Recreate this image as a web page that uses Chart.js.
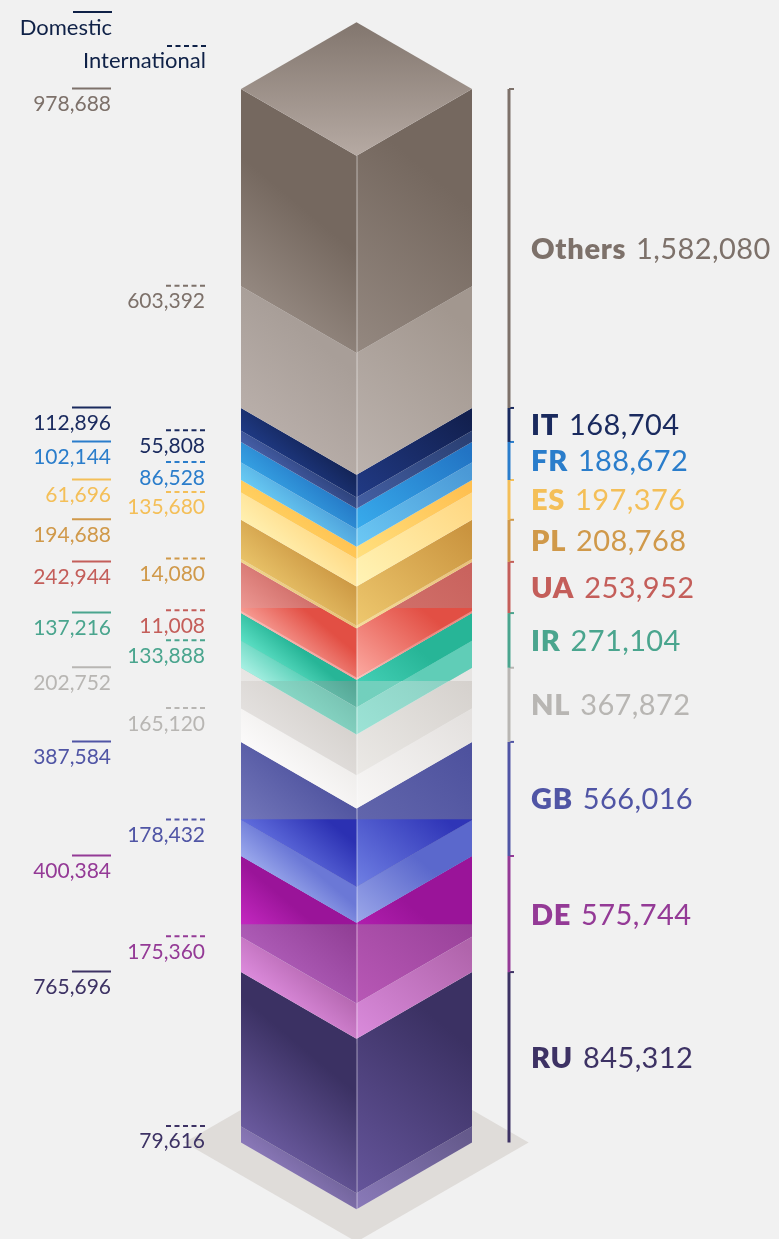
<!DOCTYPE html>
<html><head><meta charset="utf-8">
<style>html,body{margin:0;padding:0;background:#f1f1f1}canvas{display:block}</style>
<script src="https://cdn.jsdelivr.net/npm/chart.js@4"></script>
</head><body><canvas id="c" width="779" height="1239"></canvas>
<script>
// ---- data (bottom of the column first) ----
const countries = ['RU','DE','GB','NL','IR','UA','PL','ES','FR','IT','Others'];
const domestic = [765696,400384,387584,202752,137216,242944,194688,61696,102144,112896,978688];
const international = [79616,175360,178432,165120,133888,11008,14080,135680,86528,55808,603392];
const totalLabels = ['845,312','575,744','566,016','367,872','271,104','253,952','208,768','197,376','188,672','168,704','1,582,080'];
const domesticLabels = ['765,696','400,384','387,584','202,752','137,216','242,944','194,688','61,696','102,144','112,896','978,688'];
const internationalLabels = ['79,616','175,360','178,432','165,120','133,888','11,008','14,080','135,680','86,528','55,808','603,392'];

// ---- styles ----
const labelColors = ['#3d3264','#943a96','#5055a5','#b8b6b3','#4aa58e','#c45e5a','#d0994a','#f4bf58','#2a7dcb','#1a2a5e','#7d716a'];
const bandStyles = {
 RU:{dom:{base:['#6a5a9e','#3b3163','#65559b','#3b3163']},intl:{base:['#8a78b8','#6f6298','#8a7ab9','#655a8c']}},
 DE:{dom:{base:['#ad5bb6','#8c3a90','#b858b6','#8f3b90'],alt:['#cc2cc8','#9a1499','#cc2cc8','#9a1499']},intl:{base:['#dc8bdc','#b063ab','#da8bdc','#b064ab']}},
 GB:{dom:{base:['#7377ba','#4e529e','#6a6eb2','#4e529e'],alt:['#5f6cdc','#2b30b2','#7080e4','#2f35b7']},intl:{base:['#9aa8ec','#6b78d6','#9ca8ea','#5b68cc'],alt:['#9aa8ec','#6b78d6','#9ca8ea','#5b68cc']}},
 NL:{dom:{base:['#e3e0de','#d5d1cd','#ebe9e6','#d5d1cd'],alt:['#ecebe9','#e6e4e2','#ecebe9','#e6e4e2']},intl:{base:['#fbfafa','#eeecea','#f8f7f6','#e4e1df']}},
 IR:{dom:{base:['#6cc4b2','#4e9e8d','#72d0bd','#72cfbd'],alt:['#5cdfc4','#27b597','#4cd8bf','#27b597']},intl:{base:['#8adac8','#76c0b0','#9ce3d6','#88cbbd'],alt:['#a8f0e3','#62d3bc','#a8f0e3','#60cdb7']}},
 UA:{dom:{base:['#ee9a95','#c9635e','#d87b74','#c9635e'],alt:['#f69a92','#e24f44','#fcaaa2','#e24f44']},intl:{base:['#f9b9b3','#f6a5a0','#fbc4be','#ee8a82'],alt:['#f9b9b3','#f6a5a0','#fbc4be','#ee8a82']}},
 PL:{dom:{base:['#e8c268','#c9933f','#eec86e','#ca943f']},intl:{base:['#f0d58c','#e5bb72','#f5dd9b','#eac27a']}},
 ES:{dom:{base:['#ffd060','#ffc050','#ffe07f','#ffc050']},intl:{base:['#fff0b0','#ffd680','#fff4b6','#ffd884']}},
 FR:{dom:{base:['#35a0e2','#2373c2','#38aced','#2274c4']},intl:{base:['#68caf3','#4a9ad6','#6cc9f5','#4b99d6']}},
 IT:{dom:{base:['#1f3a84','#11204f','#213a85','#12204f']},intl:{base:['#465fa7','#283c72','#4560a4','#2b4074']}},
 Others:{dom:{base:['#948880','#75685f','#948880','#75685f']},intl:{base:['#b8aea9','#a89e98','#bcb3ae','#a2978f']}}
};
// value ranges of the stack where the saturated colouring applies
const saturatedZones = [[2289000,2651000],[1083000,1604000]];
const FONT = 'Lato, "Open Sans", sans-serif';

const datasets = [];
countries.forEach((c,i)=>{
  datasets.push({label:c+' International',data:[international[i]],stack:'col',backgroundColor:'transparent',borderWidth:0,_country:c,_kind:'intl',_i:i});
  datasets.push({label:c+' Domestic',data:[domestic[i]],stack:'col',backgroundColor:'transparent',borderWidth:0,_country:c,_kind:'dom',_i:i});
});
const grandTotal = domestic.reduce((a,b)=>a+b,0)+international.reduce((a,b)=>a+b,0);

function facePath(ctx,x0,y0a,y0b,x1,y1a,y1b){
  ctx.beginPath();ctx.moveTo(x0,y0a);ctx.lineTo(x1,y1a);ctx.lineTo(x1,y1b);ctx.lineTo(x0,y0b);ctx.closePath();
}
function faceGrad(ctx,x,y,L,c0,c1){
  const a=50*Math.PI/180;
  const g=ctx.createLinearGradient(x,y,x+L*Math.cos(a),y-L*Math.sin(a));
  g.addColorStop(0,c0);g.addColorStop(1,c1);return g;
}
function paintFace(ctx,chart,st,depth,xl,xc,xr,t,b){
  const h=b-t,ys=chart.scales.y;
  const sides=[
    {x0:xl,a:t,bb:b,x1:xc,a1:t+depth,b1:b+depth,px:xl,py:b,L:Math.min(100,30+.77*h),c:0},
    {x0:xc,a:t+depth,bb:b+depth,x1:xr,a1:t,b1:b,px:xc,py:b+depth,L:Math.min(185,115+.77*h),c:2}
  ];
  sides.forEach(s=>{
    ctx.save();
    facePath(ctx,s.x0,s.a,s.bb,s.x1,s.a1,s.b1);ctx.clip();
    ctx.fillStyle=faceGrad(ctx,s.px,s.py,s.L,st.base[s.c],st.base[s.c+1]);
    ctx.fillRect(s.x0-1,Math.min(s.a,s.a1)-1,s.x1-s.x0+2,h+depth+2);
    if(st.alt){
      saturatedZones.forEach(z=>{
        const zt=ys.getPixelForValue(z[1]),zb=ys.getPixelForValue(z[0]);
        ctx.save();ctx.beginPath();ctx.rect(s.x0-1,zt,s.x1-s.x0+2,zb-zt);ctx.clip();
        ctx.fillStyle=faceGrad(ctx,s.px,s.py,s.L*.62,st.alt[s.c],st.alt[s.c+1]);
        ctx.fillRect(s.x0-1,Math.min(s.a,s.a1)-1,s.x1-s.x0+2,h+depth+2);
        ctx.restore();
      });
    }
    ctx.restore();
  });
}

const isoColumn = {
  id:'isoColumn',
  beforeDatasetsDraw(chart){
    const ctx=chart.ctx,first=chart.getDatasetMeta(0).data[0];
    const half=first.width/2,xc=first.x,b=first.base;
    // floor
    const fw=half*1.49,fh=fw*Math.tan(Math.PI/6);
    ctx.save();ctx.fillStyle='#dfdcd9';ctx.beginPath();
    ctx.moveTo(xc,b-fh);ctx.lineTo(xc+fw,b);ctx.lineTo(xc,b+fh);ctx.lineTo(xc-fw,b);ctx.closePath();ctx.fill();ctx.restore();
  },
  afterDatasetsDraw(chart){
    const ctx=chart.ctx;
    let topY=0,left,right,xc,depth;
    chart.data.datasets.forEach((ds,di)=>{
      const el=chart.getDatasetMeta(di).data[0];
      xc=el.x;const half=el.width/2;left=xc-half;right=xc+half;depth=half*Math.tan(Math.PI/6);
      paintFace(ctx,chart,bandStyles[ds._country][ds._kind],depth,left,xc,right,el.y,el.base);
      topY=el.y;

      const col=labelColors[ds._i];
      ctx.save();ctx.fillStyle=col;ctx.strokeStyle=col;ctx.font='21px '+FONT;ctx.textAlign='right';ctx.textBaseline='alphabetic';
      ctx.lineWidth=2;ctx.beginPath();
      if(ds._kind==='dom'){
        ctx.moveTo(left-169,el.y-.5);ctx.lineTo(left-130,el.y-.5);ctx.stroke();
        ctx.fillText(domesticLabels[ds._i],left-130,el.y+22);
      }else{
        ctx.setLineDash([5,3.5]);ctx.moveTo(left-75,el.y-.5);ctx.lineTo(left-36,el.y-.5);ctx.stroke();
        ctx.fillText(internationalLabels[ds._i],left-36,el.y+22);
      }
      ctx.restore();

      if(ds._kind==='dom'){
        // bracket and total label for the country
        const bottom=chart.getDatasetMeta(di-1).data[0].base,xb=right+37;
        ctx.save();ctx.strokeStyle=col;ctx.lineWidth=3;ctx.beginPath();ctx.moveTo(xb,el.y);ctx.lineTo(xb,bottom);ctx.stroke();
        ctx.lineWidth=2;ctx.beginPath();ctx.moveTo(xb,el.y);ctx.lineTo(xb+5,el.y);ctx.stroke();
        const mid=(el.y+bottom)/2+10.5,xt=right+59;
        ctx.fillStyle=col;ctx.textAlign='left';ctx.textBaseline='alphabetic';
        ctx.letterSpacing='0.7px';
        ctx.font='800 29px '+FONT;ctx.fillText(countries[ds._i],xt,mid);
        const w=ctx.measureText(countries[ds._i]).width+10;
        ctx.letterSpacing='0.4px';
        ctx.font='400 29px '+FONT;ctx.fillText(totalLabels[ds._i],xt+w,mid);
        ctx.restore();
      }
    });
    // top cap
    const g=ctx.createLinearGradient(0,topY-depth,0,topY+depth);
    g.addColorStop(0,'#82766e');g.addColorStop(1,'#b6aaa3');
    ctx.save();ctx.fillStyle=g;ctx.beginPath();ctx.moveTo(xc,topY-depth);ctx.lineTo(right,topY);ctx.lineTo(xc,topY+depth);ctx.lineTo(left,topY);ctx.closePath();ctx.fill();
    // centre edge
    const bottom=chart.getDatasetMeta(0).data[0].base;
    ctx.strokeStyle='rgba(255,255,255,.25)';ctx.lineWidth=1;ctx.beginPath();ctx.moveTo(Math.round(xc)+.5,topY+depth);ctx.lineTo(Math.round(xc)+.5,bottom+depth);ctx.stroke();
    // legend
    ctx.fillStyle='#0f2147';ctx.strokeStyle='#0f2147';ctx.font='22px '+FONT;ctx.textAlign='right';ctx.lineWidth=2;
    ctx.fillText('Domestic',112,35);ctx.beginPath();ctx.moveTo(73,12);ctx.lineTo(112,12);ctx.stroke();
    ctx.fillText('International',206,68);ctx.setLineDash([5,3.5]);ctx.beginPath();ctx.moveTo(167,46);ctx.lineTo(206,46);ctx.stroke();
    ctx.restore();
  }
};

new Chart(document.getElementById('c'),{
  type:'bar',
  data:{labels:['Total'],datasets},
  options:{
    responsive:false,animation:false,
    layout:{padding:{left:241,right:307,top:89,bottom:96.5}},
    plugins:{legend:{display:false},tooltip:{enabled:false}},
    scales:{
      x:{display:false,stacked:true},
      y:{display:false,stacked:true,min:0,max:grandTotal}
    },
    datasets:{bar:{categoryPercentage:1,barPercentage:1}}
  },
  plugins:[isoColumn]
});
</script></body></html>
